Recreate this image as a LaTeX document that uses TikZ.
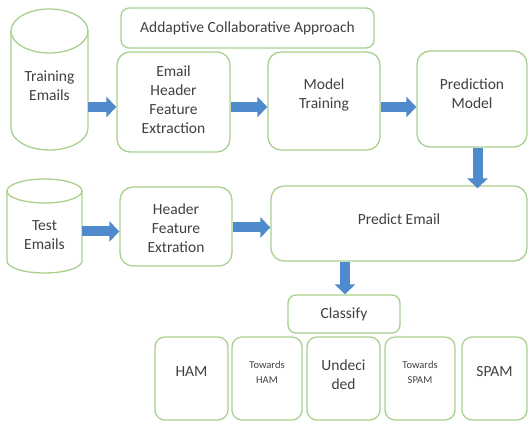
\documentclass[tikz,border=0pt]{standalone}
\usepackage{fontspec}
\setmainfont{Carlito}
\usetikzlibrary{arrows.meta}
\definecolor{boxgreen}{RGB}{169,209,142}
\definecolor{flowblue}{RGB}{79,139,204}
\definecolor{txt}{RGB}{64,64,64}
\tikzset{
  x=1pt, y=1pt,
  box/.style={draw=boxgreen, line width=1.3pt, rounded corners=13pt, inner sep=0pt},
  smallbox/.style={box, rounded corners=8pt},
  leafbox/.style={box, rounded corners=10pt, minimum width=72pt, minimum height=83pt},
  body/.style={inner sep=0pt},
  cyl/.style={draw=boxgreen, line width=1.3pt},
  lbl/.style={align=center, text=txt, font=\fontsize{15.5}{19}\selectfont},
  smalllbl/.style={align=center, text=txt, font=\fontsize{10.5}{15}\selectfont},
  flow/.style={draw=flowblue, line width=10pt, -{Triangle[length=10pt,width=20pt]}}
}
\begin{document}
\begin{tikzpicture}
\useasboundingbox (0,0) rectangle (529,423);
\fill[white] (0,0) rectangle (529,423);

% data stores
\node[body, minimum width=77pt, minimum height=141pt,
      label={[lbl, yshift=-6.5pt]center:Training\\Emails}] (tr) at (49.5,343.5) {};
\draw[cyl] (11,392) -- (11,295) arc[start angle=180, end angle=360, x radius=38.5, y radius=22] -- (88,392);
\draw[cyl] (49.5,392) ellipse[x radius=38.5, y radius=22];

\node[body, minimum width=75pt, minimum height=94pt,
      label={[lbl, yshift=-9pt]center:Test\\Emails}] (te) at (44.5,197) {};
\draw[cyl] (7,232) -- (7,162) arc[start angle=180, end angle=360, x radius=37.5, y radius=12] -- (82,232);
\draw[cyl] (44.5,232) ellipse[x radius=37.5, y radius=12];

% title
\node[smallbox, minimum width=253pt, minimum height=40pt, lbl] (acap) at (247.5,395) {Addaptive Collaborative Approach};

% training pipeline
\node[box, minimum width=113pt, minimum height=100pt,
      label={[lbl, yshift=2pt]center:Email\\Header\\Feature\\Extraction}] (ehfe) at (173.5,321) {};
\node[box, minimum width=112pt, minimum height=98pt,
      label={[lbl, yshift=6pt]center:Model\\Training}] (mt) at (324,322) {};
\node[box, minimum width=110pt, minimum height=96pt,
      label={[lbl, yshift=5pt]center:Prediction\\Model}] (pm) at (472,324) {};

% testing pipeline
\node[box, minimum width=112pt, minimum height=79pt,
      label={[lbl, yshift=-1.5pt]center:Header\\Feature\\Extration}] (hfe) at (176,196.5) {};
\node[box, minimum width=256pt, minimum height=75pt,
      label={[lbl, yshift=4.5pt]center:Predict Email}] (pe) at (399,199.5) {};

% classification
\node[smallbox, minimum width=112pt, minimum height=38pt, lbl] (cls) at (344,109) {Classify};
\node[leafbox, minimum width=73pt, label={[lbl, yshift=6.5pt]center:HAM}] (ham) at (191.5,44.5) {};
\node[leafbox, minimum width=70pt, label={[smalllbl, yshift=6pt]center:Towards\\HAM}] (tham) at (267,44.5) {};
\node[leafbox, minimum width=73pt, label={[lbl, yshift=3.5pt]center:Undeci\\ded}] (und) at (343.5,44.5) {};
\node[leafbox, minimum width=70pt, label={[smalllbl, yshift=6pt]center:Towards\\SPAM}] (tspam) at (420,44.5) {};
\node[leafbox, minimum width=65pt, label={[lbl, yshift=6.5pt]center:SPAM}] (spam) at (494.5,44.5) {};

% flow arrows
\draw[flow] ([yshift=-27.5pt]tr.east) -- ([yshift=-27.5pt]tr.east -| ehfe.west);
\draw[flow] ([yshift=-5pt]ehfe.east) -- ([yshift=-5pt]ehfe.east -| mt.west);
\draw[flow] ([yshift=-6pt]mt.east) -- ([yshift=-6pt]mt.east -| pm.west);
\draw[flow, shorten >=-3pt] ([xshift=5.5pt]pm.south) -- ([xshift=5.5pt]pm.south |- pe.north);
\draw[flow] ([yshift=-5.5pt]te.east) -- ([yshift=-5.5pt]te.east -| hfe.west);
\draw[flow] ([yshift=-1pt]hfe.east) -- ([yshift=-1pt]hfe.east -| pe.west);
\draw[flow] ([xshift=1pt]cls.north |- pe.south) -- ([xshift=1pt]cls.north);
\end{tikzpicture}
\end{document}
